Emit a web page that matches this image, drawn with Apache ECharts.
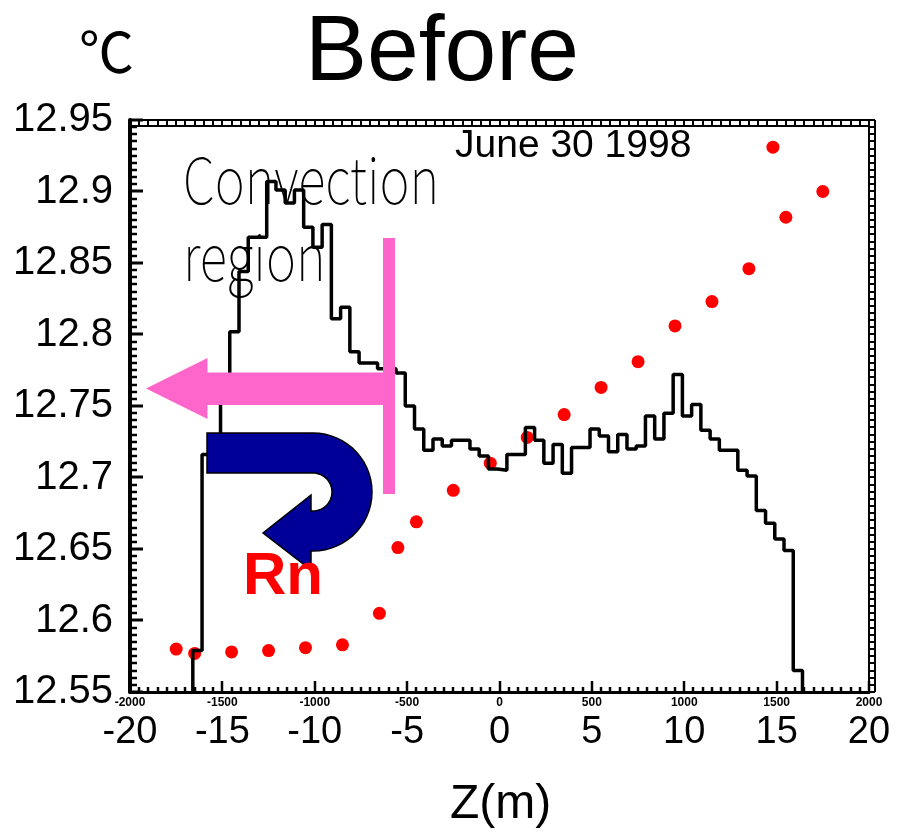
<!DOCTYPE html>
<html><head><meta charset="utf-8">
<script src="https://cdn.jsdelivr.net/npm/echarts@6/dist/echarts.min.js"></script>
<style>html,body{margin:0;padding:0;background:#fff}#c{width:905px;height:834px}</style>
</head><body><div id="c"></div>
<script>
// ---- data ----
const zDots = [-17.5,-16.5,-14.5,-12.5,-10.5,-8.5,-6.5,-5.5,-4.5,-2.5,-0.5,1.5,3.5,5.5,7.5,9.5,11.5,13.5,14.8,15.5,17.5];
const tempDots = [12.580,12.577,12.578,12.579,12.581,12.583,12.605,12.651,12.669,12.691,12.710,12.728,12.744,12.763,12.781,12.806,12.823,12.846,12.931,12.882,12.900];

const histBinLeft = -16.6;
const histBinWidth = 0.5;
const histValues = [
 12.579,12.716,12.723,12.765,12.802,12.844,12.868,12.868,12.907,12.901,
 12.892,12.901,12.875,12.861,12.877,12.811,12.819,12.788,12.780,12.780,
 12.776,12.776,12.773,12.750,12.734,12.719,12.727,12.722,12.726,12.726,
 12.720,12.715,12.706,12.705,12.716,12.716,12.735,12.726,12.710,12.723,
 12.703,12.721,12.721,12.734,12.729,12.718,12.730,12.720,12.722,12.743,
 12.727,12.745,12.772,12.743,12.751,12.733,12.727,12.719,12.719,12.705,
 12.701,12.677,12.668,12.657,12.649,12.565
];

const xTickValues = [-20,-15,-10,-5,0,5,10,15,20];
const xTickLabels = ['-20','-15','-10','-5','0','5','10','15','20'];
const cmTickValues = [-2000,-1500,-1000,-500,0,500,1000,1500,2000];
const cmTickLabels = ['-2000','-1500','-1000','-500','0','500','1000','1500','2000'];
const yTickValues = [12.55,12.6,12.65,12.7,12.75,12.8,12.85,12.9,12.95];
const yTickLabels = ['12.55','12.6','12.65','12.7','12.75','12.8','12.85','12.9','12.95'];

function labeler(values, labels){
  return function(v){
    for (let i=0;i<values.length;i++){ if (Math.abs(values[i]-v) < 1e-6) return labels[i]; }
    return '';
  };
}

const yMin = 12.55, yMax = 12.95;
const histPoints = [[histBinLeft, yMin]];
histValues.forEach(function(v,k){
  const a = histBinLeft + k*histBinWidth;
  histPoints.push([a, v], [a + histBinWidth, v]);
});
histPoints.push([histBinLeft + histValues.length*histBinWidth, yMin]);

const dotData = zDots.map(function(z,i){ return [z, tempDots[i]]; });

// ---- annotations (decoration) ----
function uturnPoints(){
  const pts = [[207,433],[313,433]];
  const cx = 313, cy = 492, ro = 59, ri = 19;
  for (let a=-90; a<=90; a+=6){ const t=a*Math.PI/180; pts.push([cx+ro*Math.cos(t), cy+ro*Math.sin(t)]); }
  pts.push([311,551],[311,570],[263,533],[311,495],[311,511]);
  for (let a=90; a>=-90; a-=6){ const t=a*Math.PI/180; pts.push([cx+ri*Math.cos(t), cy+ri*Math.sin(t)]); }
  pts.push([207,473]);
  return pts;
}

const FONT = '"Liberation Sans", Arial, Helvetica, sans-serif';
const chart = echarts.init(document.getElementById('c'), null, {renderer:'canvas'});
chart.setOption({
  animation: false,
  backgroundColor: '#fff',
  grid: [
    {left:130, right:36, top:120, bottom:142, containLabel:false, outerBoundsMode:'none'},
    {left:130, right:36, top:120, bottom:142, containLabel:false, outerBoundsMode:'none'}
  ],
  xAxis: [
    {gridIndex:0, type:'value', min:-20, max:20, interval:0.5, position:'top',
     axisLine:{show:true, lineStyle:{color:'#000', width:2}},
     axisTick:{show:false},
     axisLabel:{show:false}, splitLine:{show:false}},
    {gridIndex:0, type:'value', min:-2000, max:2000, interval:500, position:'bottom',
     axisLine:{show:true, onZero:false, lineStyle:{color:'#000', width:3}},
     axisTick:{show:false},
     axisLabel:{show:true, fontSize:12, fontWeight:'bold', fontFamily:FONT, color:'#000', margin:5,
       formatter: labeler(cmTickValues, cmTickLabels)},
     splitLine:{show:false}},
    {gridIndex:1, type:'value', min:-20, max:20, interval:5, position:'bottom',
     axisLine:{show:false}, axisTick:{show:false}, splitLine:{show:false},
     axisLabel:{show:true, fontSize:38, fontFamily:FONT, color:'#000', margin:22,
       formatter: labeler(xTickValues, xTickLabels)}}
  ],
  yAxis: [
    {gridIndex:0, type:'value', min:yMin, max:yMax, interval:0.05, position:'left',
     axisLine:{show:true, onZero:false, lineStyle:{color:'#000', width:4}},
     axisTick:{show:false},
     axisLabel:{show:true, fontSize:40, fontFamily:FONT, color:'#000', margin:17,
       formatter: labeler(yTickValues, yTickLabels)},
     splitLine:{show:false}},
    {gridIndex:0, type:'value', min:yMin, max:yMax, interval:0.05, position:'right',
     axisLine:{show:true, onZero:false, lineStyle:{color:'#000', width:2}},
     axisTick:{show:false},
     axisLabel:{show:false}, splitLine:{show:false}},
    {gridIndex:1, type:'value', min:yMin, max:yMax, show:false}
  ],
  series: [
    {type:'scatter', xAxisIndex:0, yAxisIndex:0, data: dotData, symbol:'circle', symbolSize:13,
     itemStyle:{color:'#ff0000', opacity:1}, z:2},
    {type:'line', xAxisIndex:0, yAxisIndex:0, data: histPoints, symbol:'none', showSymbol:false,
     lineStyle:{color:'#000', width:3.5}, z:3}
  ]
});

// axis ticks placed through the library's own scales
const gfx = [];
function tick(x1,y1,x2,y2,w){ gfx.push({type:'line', z:50, shape:{x1:x1,y1:y1,x2:x2,y2:y2}, style:{stroke:'#000', lineWidth:w}}); }
const xL = chart.convertToPixel({xAxisIndex:0}, -20), xR = chart.convertToPixel({xAxisIndex:0}, 20);
const yB = chart.convertToPixel({yAxisIndex:0}, yMin), yT = chart.convertToPixel({yAxisIndex:0}, yMax);
// left: minor every 0.005, major every 0.05
for (let i=0;i<=80;i++){
  const y = Math.round(chart.convertToPixel({yAxisIndex:0}, yMin + i*0.005));
  const major = (i % 10 === 0);
  tick(xL - 1, y, xL + (major ? 13 : 7), y, major ? 3 : 2.5);
}
// right ladder
for (let i=0;i<=80;i++){
  const y = Math.round(chart.convertToPixel({yAxisIndex:1}, yMin + i*0.005));
  tick(xR, y, xR + 6, y, 2);
}
tick(xR + 6, yT, xR + 6, yB, 2);
// top ladder
for (let i=0;i<=80;i++){
  const x = Math.round(chart.convertToPixel({xAxisIndex:0}, -20 + i*0.5));
  tick(x, yT, x, yT + 6, 2);
}
tick(xL, yT + 6, xR, yT + 6, 2);
// bottom cm axis: minor every 50, major every 500
for (let i=0;i<=80;i++){
  const x = Math.round(chart.convertToPixel({xAxisIndex:1}, -2000 + i*50));
  const major = (i % 10 === 0);
  tick(x, yB, x, yB - (major ? 11 : 5), 2.5);
}

gfx.push(
  {type:'text', z:60, x:305, y:8, style:{text:'Before', fontSize:93, fontFamily:FONT, fill:'#000'}},
  {type:'text', z:60, x:79, y:24, style:{text:'℃', fontSize:55, fontFamily:'"Noto Sans CJK JP"', fill:'#000'}},
  {type:'text', z:60, x:455, y:127, style:{text:'June 30 1998', fontSize:39, fontFamily:FONT, fill:'#000'}},
  {type:'text', z:60, x:183, y:148, scaleX:0.8, style:{text:'Convection', fontSize:64, fontWeight:100, fontFamily:'"Noto Sans CJK JP"', fill:'#000'}},
  {type:'text', z:60, x:183, y:225, scaleX:0.8, style:{text:'region', fontSize:64, fontWeight:100, fontFamily:'"Noto Sans CJK JP"', fill:'#000'}},
  {type:'rect', z:70, shape:{x:383, y:238, width:12, height:256}, style:{fill:'#ff66cc'}},
  {type:'polygon', z:70, shape:{points:[[146,388.5],[207.5,358],[207.5,372.5],[389,372.5],[389,405],[207.5,405],[207.5,419]]}, style:{fill:'#ff66cc'}},
  {type:'polygon', z:75, shape:{points: uturnPoints()}, style:{fill:'#000099', stroke:'#000', lineWidth:1.5}},
  {type:'text', z:80, x:243, y:547, style:{text:'Rn', fontSize:60, fontWeight:'bold', fontFamily:FONT, fill:'#ff0000'}},
  {type:'text', z:60, x:450, y:781, style:{text:'Z(m)', fontSize:48, fontFamily:FONT, fill:'#000'}}
);
chart.setOption({graphic: gfx});
</script></body></html>
